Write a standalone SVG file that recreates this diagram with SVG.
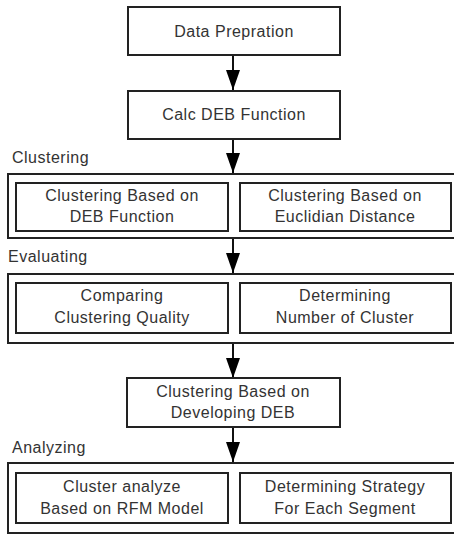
<svg xmlns="http://www.w3.org/2000/svg" width="454" height="534" viewBox="0 0 454 534">
<defs>
<style>
.box{fill:#fff;stroke:#222;stroke-width:2}
.t{font-family:"Liberation Sans",Arial,sans-serif;font-size:16px;letter-spacing:0.5px;fill:#333;text-anchor:middle}
.lbl{font-family:"Liberation Sans",Arial,sans-serif;font-size:16px;letter-spacing:0.5px;fill:#333}
.ln{stroke:#111;stroke-width:2;fill:none}
</style>
<marker id="ah" markerWidth="20" markerHeight="14" refX="20" refY="7" orient="auto" markerUnits="userSpaceOnUse" viewBox="0 0 20 14">
<path d="M0,0 L20,7 L0,14 Z" fill="#000"/>
</marker>
</defs>
<rect width="454" height="534" fill="#fff"/>
<g id="connectors">
<line class="ln" x1="233" y1="55" x2="233" y2="90" marker-end="url(#ah)"/>
<line class="ln" x1="233" y1="139" x2="233" y2="173" marker-end="url(#ah)"/>
<line class="ln" x1="233" y1="238" x2="233" y2="273" marker-end="url(#ah)"/>
<line class="ln" x1="233" y1="343" x2="233" y2="378" marker-end="url(#ah)"/>
<line class="ln" x1="233" y1="427" x2="233" y2="462" marker-end="url(#ah)"/>
</g>
<g id="data-prep">
<rect class="box" x="128" y="7" width="212" height="48"/>
<text class="t" x="234" y="37">Data Prepration</text>
</g>
<g id="calc-deb">
<rect class="box" x="128" y="91" width="212" height="48"/>
<text class="t" x="234" y="120">Calc DEB Function</text>
</g>
<g id="clustering">
<text class="lbl" x="12" y="163">Clustering</text>
<rect class="box" x="8" y="174" width="450" height="64"/>
<g id="clust-deb">
<rect class="box" x="16" y="183" width="212" height="48"/>
<text class="t" x="122" y="201">Clustering Based on</text>
<text class="t" x="122" y="222">DEB Function</text>
</g>
<g id="clust-euc">
<rect class="box" x="240" y="183" width="211" height="48"/>
<text class="t" x="345" y="201">Clustering Based on</text>
<text class="t" x="345" y="222">Euclidian Distance</text>
</g>
</g>
<g id="evaluating">
<text class="lbl" x="8" y="262">Evaluating</text>
<rect class="box" x="8" y="274" width="450" height="69"/>
<g id="compare">
<rect class="box" x="16" y="283" width="212" height="50"/>
<text class="t" x="122" y="301">Comparing</text>
<text class="t" x="122" y="323">Clustering Quality</text>
</g>
<g id="determine-num">
<rect class="box" x="240" y="283" width="211" height="50"/>
<text class="t" x="345" y="301">Determining</text>
<text class="t" x="345" y="323">Number of Cluster</text>
</g>
</g>
<g id="clust-dev">
<rect class="box" x="127" y="378" width="213" height="49"/>
<text class="t" x="233" y="397">Clustering Based on</text>
<text class="t" x="233" y="418">Developing DEB</text>
</g>
<g id="analyzing">
<text class="lbl" x="12" y="453">Analyzing</text>
<rect class="box" x="8" y="463" width="450" height="70"/>
<g id="cluster-analyze">
<rect class="box" x="16" y="473" width="212" height="50"/>
<text class="t" x="122" y="492">Cluster analyze</text>
<text class="t" x="122" y="514">Based on RFM Model</text>
</g>
<g id="strategy">
<rect class="box" x="240" y="473" width="211" height="50"/>
<text class="t" x="345" y="492">Determining Strategy</text>
<text class="t" x="345" y="514">For Each Segment</text>
</g>
</g>
</svg>
